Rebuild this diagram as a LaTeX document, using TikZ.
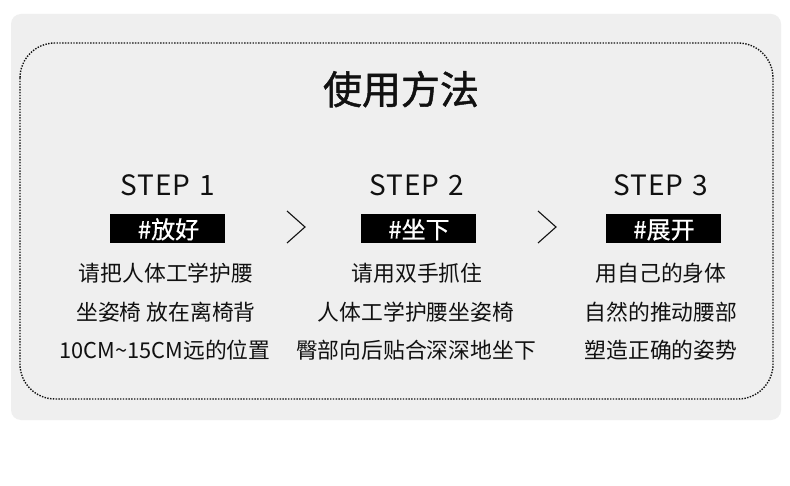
\documentclass[tikz,border=0pt]{standalone}
\usepackage{fontspec}
\setmainfont{Noto Sans CJK SC}
\newfontfamily\titlefont[FakeBold=1.2]{Noto Sans CJK SC}
\newfontfamily\tagfont[FakeBold=0.6]{Noto Sans CJK SC}
\newfontfamily\stepfont[LetterSpace=3]{Noto Sans CJK SC}
\usetikzlibrary{positioning}
\definecolor{bggray}{HTML}{EFEFEF}
\definecolor{ink}{HTML}{111111}
\tikzset{
  x=1pt,y=-1pt,
  steptitle/.style={anchor=base,inner sep=0pt,text=ink,font=\stepfont\fontsize{28}{30}\selectfont},
  tagbox/.style={fill=black,minimum width=115pt,minimum height=29pt,inner sep=0pt},
  tagtext/.style={anchor=base,inner sep=0pt,text=white,font=\tagfont\fontsize{24}{26}\selectfont},
  bodytext/.style={anchor=base,inner sep=0pt,text=ink,font=\fontsize{21.8}{24}\selectfont},
  chevron/.style={draw=ink,line width=1.1pt,line join=miter},
}
\begin{document}
\begin{tikzpicture}
\useasboundingbox (0,0) rectangle (790,486);
\fill[white] (0,0) rectangle (790,486);
% background panel
\fill[bggray,rounded corners=10pt] (11,14) rectangle (781,420);
% dotted frame
\draw[ink,line width=1.4pt,dash pattern=on 1.4pt off 1.4pt,rounded corners=35pt] (20,43) rectangle (773,399);
% title
\node[anchor=base,inner sep=0pt,text=ink,font=\titlefont\fontsize{39}{42}\selectfont] (title) at (401,104) {使用方法};

% column 1
\node[steptitle] (s1) at (168,196) {STEP\hspace{0.32em}1};
\node[tagbox] (b1) at (167.5,228.5) {};
\node[tagtext] (t1) at (168.5,238.5) {\#放好};
\node[bodytext] (l11) at (166,281.5) {请把人体工学护腰};
\node[bodytext] (l12) at (166,320.5) {坐姿椅 放在离椅背};
\node[bodytext] (l13) at (165,358.5) {10CM\char"007E 15CM远的位置};

% column 2
\node[steptitle] (s2) at (417,196) {STEP\hspace{0.32em}2};
\node[tagbox] (b2) at (418.5,228.5) {};
\node[tagtext] (t2) at (419,238.5) {\#坐下};
\node[bodytext] (l21) at (417,281.5) {请用双手抓住};
\node[bodytext] (l22) at (416,320.5) {人体工学护腰坐姿椅};
\node[bodytext] (l23) at (416,358.5) {臀部向后贴合深深地坐下};

% column 3
\node[steptitle] (s3) at (661,196) {STEP\hspace{0.32em}3};
\node[tagbox] (b3) at (663.5,228.5) {};
\node[tagtext] (t3) at (664,238.5) {\#展开};
\node[bodytext] (l31) at (661,281.5) {用自己的身体};
\node[bodytext] (l32) at (661,320.5) {自然的推动腰部};
\node[bodytext] (l33) at (661,358.5) {塑造正确的姿势};

% chevrons
\coordinate (c1a) at (287,211);
\coordinate (c1b) at (305,227);
\coordinate (c1c) at (287,243);
\draw[chevron] (c1a) -- (c1b) -- (c1c);
\coordinate (c2a) at (538,211);
\coordinate (c2b) at (556,227);
\coordinate (c2c) at (538,243);
\draw[chevron] (c2a) -- (c2b) -- (c2c);
\end{tikzpicture}
\end{document}
